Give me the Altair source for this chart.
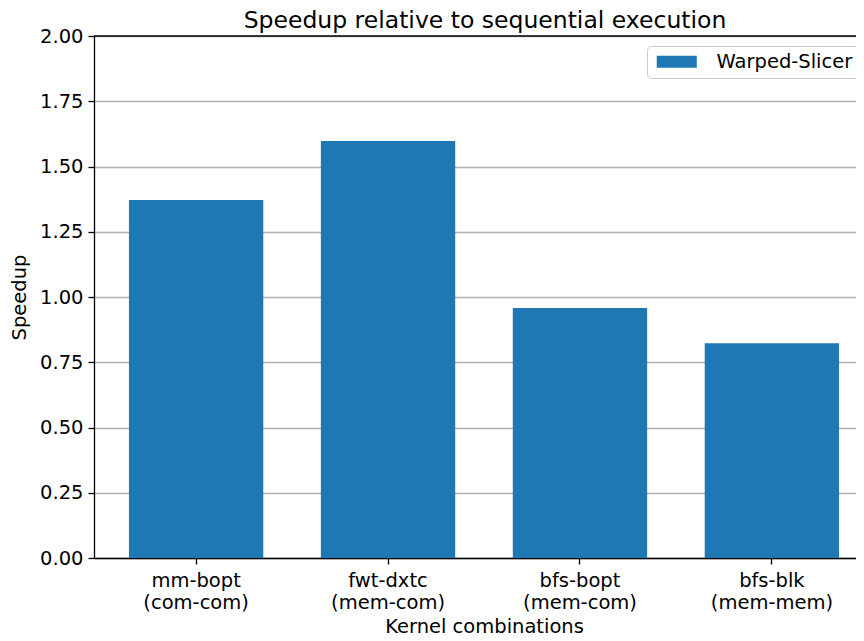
import altair as alt
import pandas as pd

kernels = ["mm-bopt", "fwt-dxtc", "bfs-bopt", "bfs-blk"]
classes = ["(com-com)", "(mem-com)", "(mem-com)", "(mem-mem)"]
speedup = [1.372, 1.598, 0.958, 0.823]
series = ["Warped-Slicer"] * 4
y_ticks = [0.0, 0.25, 0.5, 0.75, 1.0, 1.25, 1.5, 1.75, 2.0]

df = pd.DataFrame({
    "combo": [k + "|" + c for k, c in zip(kernels, classes)],
    "speedup": speedup,
    "series": series,
})

FONT = "DejaVu Sans"
FS = 19.5

bars = alt.Chart(df).mark_bar().encode(
    x=alt.X(
        "combo:N",
        sort=None,
        scale=alt.Scale(range=[0, 780], paddingInner=0.3, paddingOuter=0.182),
        axis=alt.Axis(
            title="Kernel combinations",
            labelAngle=0,
            labelExpr="split(datum.label, '|')",
            labelLineHeight=22,
            labelPadding=7,
            labelBaseline="top",
            titlePadding=6,
            grid=False,
        ),
    ),
    y=alt.Y(
        "speedup:Q",
        scale=alt.Scale(domain=[0, 2], nice=False),
        axis=alt.Axis(
            title="Speedup",
            values=y_ticks,
            format=".2f",
            grid=True,
            gridColor="#b0b0b0",
            gridWidth=1.5,
            labelPadding=5,
            titlePadding=10,
        ),
    ),
    color=alt.Color(
        "series:N",
        scale=alt.Scale(domain=["Warped-Slicer"], range=["#1f77b4"]),
        legend=alt.Legend(
            title=None,
            orient="none",
            legendX=553,
            legendY=10,
            strokeColor="#cccccc",
            fillColor="white",
            cornerRadius=4,
            padding=6,
            symbolType="M-1,-1L5.67,-1L5.67,1L-1,1Z",
            symbolSize=144,
            symbolStrokeWidth=0,
            symbolOpacity=1,
            labelFontSize=FS,
            labelFont=FONT,
            labelColor="black",
            labelOffset=44,
        ),
    ),
)

top_spine = alt.Chart(pd.DataFrame({"a": [0]})).mark_rule(
    color="black", strokeWidth=1.3
).encode(x=alt.value(0), x2=alt.value(780), y=alt.value(0))

chart = alt.layer(bars, top_spine).properties(
    width=762,
    height=522,
    title=alt.TitleParams(
        "Speedup relative to sequential execution",
        fontSize=23.5,
        fontWeight="normal",
        font=FONT,
        color="black",
        frame="group",
        offset=10,
        dy=16,
        dx=10,
    ),
    autosize=alt.AutoSizeParams(type="none"),
    padding={"left": 86, "top": 28, "right": 0, "bottom": 83},
).configure_view(stroke=None).configure_axis(
    domainColor="black",
    domainWidth=1.3,
    tickColor="black",
    tickWidth=1.3,
    tickSize=6,
    labelColor="black",
    labelFont=FONT,
    labelFontSize=FS,
    titleFont=FONT,
    titleFontSize=FS,
    titleFontWeight="normal",
    titleColor="black",
)

chart.save("out.html", embed_options={"renderer": "svg", "actions": False})
